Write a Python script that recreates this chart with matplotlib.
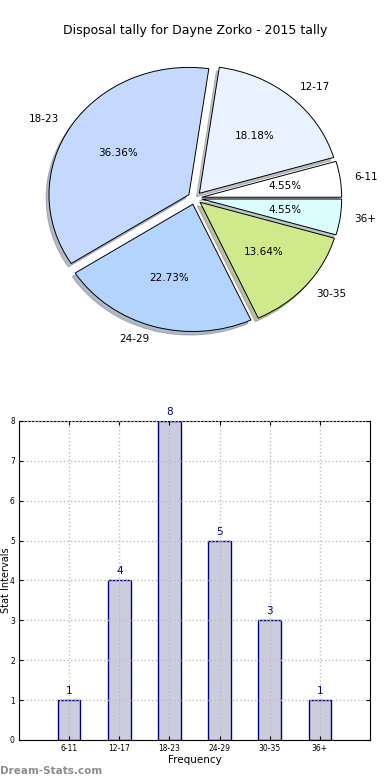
import matplotlib
matplotlib.use('Agg')
import matplotlib.pyplot as plt

# disposal tally buckets
bins = ['6-11', '12-17', '18-23', '24-29', '30-35', '36+']
counts = [1, 4, 8, 5, 3, 1]
pie_colors = ['#ffffff', '#eaf2ff', '#c5d9ff', '#b3d4ff', '#d0e98a', '#dbffff']

fig = plt.figure(figsize=(3.9, 7.8), dpi=100)

# pie chart (top)
ax1 = fig.add_axes([0.051, 0.542, 0.897, 0.408])
wedges, texts, autotexts = ax1.pie(
    counts, labels=bins, colors=pie_colors, autopct='%1.2f%%',
    explode=[0.05] * len(counts),
    shadow={'ox': -0.015, 'oy': -0.02, 'shade': 0.45}, startangle=0,
    wedgeprops={'edgecolor': 'black', 'linewidth': 0.7},
    textprops={'fontsize': 7.5})
ax1.set_aspect('auto')
fig.text(0.5, 0.961, 'Disposal tally for Dayne Zorko - 2015 tally',
         ha='center', va='center', fontsize=9)

# bar chart (bottom)
ax2 = fig.add_axes([0.0487, 0.0513, 0.9, 0.409])
x = list(range(1, len(bins) + 1))
ax2.bar(x, counts, width=0.45, color='#ccccdf', edgecolor='navy',
        linewidth=1, zorder=2)
for xi, c in zip(x, counts):
    ax2.text(xi, c + 0.1, str(c), ha='center', va='bottom',
             color='navy', fontsize=7.5)
ax2.set_xlim(0, 7)
ax2.set_ylim(0, 8)
ax2.set_xticks(x)
ax2.set_xticklabels(bins)
ax2.grid(True, linestyle=':', color='#bdbdbd', linewidth=1, zorder=3)
ax2.set_axisbelow(False)
ax2.tick_params(direction='in', top=True, right=True, labelsize=5.5,
                length=3, pad=3)
ax2.set_xlabel('Frequency', fontsize=7.5, labelpad=1)
# y label pinned to the left edge of the figure
fig.text(0.002, 0.0513 + 0.409 / 2, 'Stat Intervals', rotation=90,
         ha='left', va='center', fontsize=7)

fig.text(0.0, 0.012, 'Dream-Stats.com', color='#8c8c8c', fontsize=7.5,
         fontweight='bold', ha='left', va='center')

plt.savefig('out.png', dpi=100)
